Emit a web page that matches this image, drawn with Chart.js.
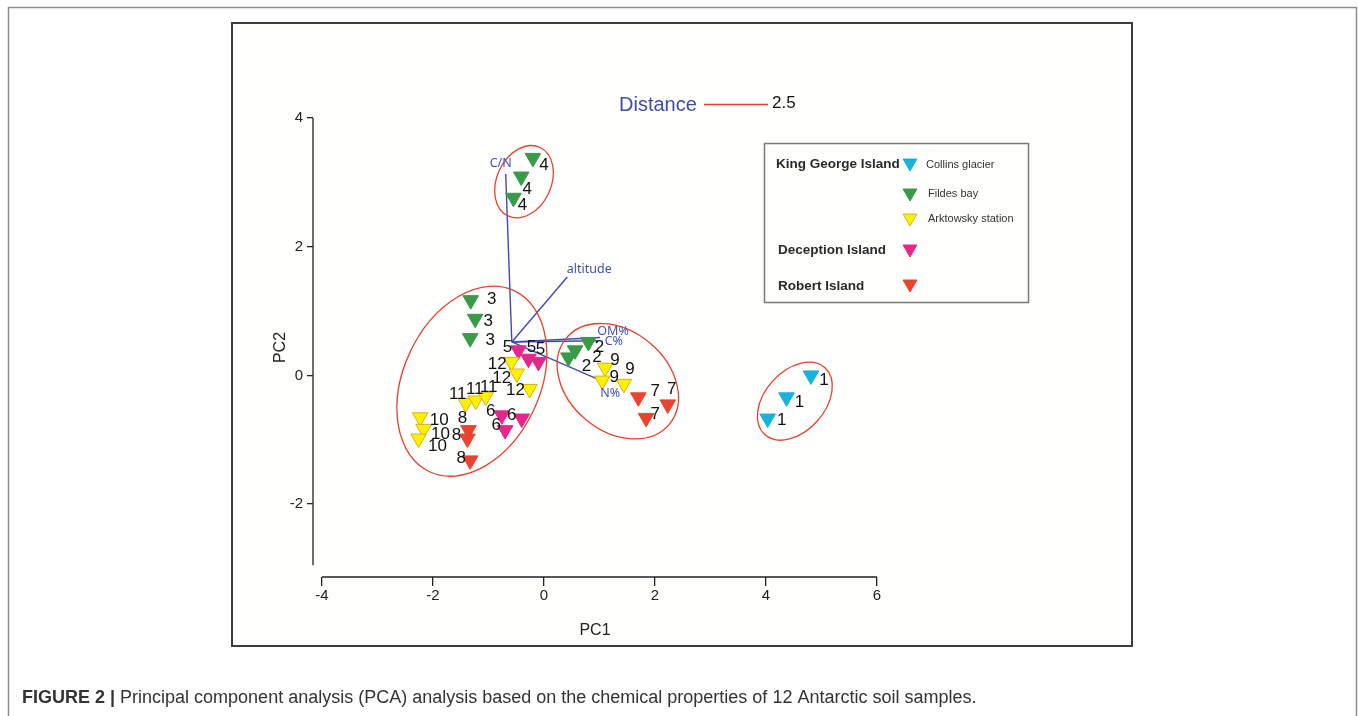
<!DOCTYPE html>
<html>
<head>
<meta charset="utf-8">
<script src="https://cdn.jsdelivr.net/npm/chart.js@4.4.1/dist/chart.umd.min.js"></script>
<style>
html,body{margin:0;padding:0;background:#fff;}
canvas{display:block;}
</style>
</head>
<body>
<canvas id="c" width="1358" height="716"></canvas>
<script>
// ---------------- DATA ----------------
const seriesNames = ['Collins glacier', 'Fildes bay', 'Arktowsky station', 'Deception Island', 'Robert Island'];

const collinsX = [4.81, 4.37, 4.03];
const collinsY = [0.00, -0.34, -0.67];
const collinsLab = ['1', '1', '1'];

const fildesX = [-0.20, -0.41, -0.55, -1.32, -1.24, -1.33, 0.80, 0.56, 0.44];
const fildesY = [3.38, 3.09, 2.76, 1.17, 0.88, 0.58, 0.52, 0.39, 0.28];
const fildesLab = ['4', '4', '4', '3', '3', '3', '2', '2', '2'];

const arktowskyX = [1.10, 1.05, 1.44, -0.59, -0.49, -0.26, -1.41, -1.23, -1.05, -2.23, -2.17, -2.26];
const arktowskyY = [0.12, -0.08, -0.13, 0.21, 0.03, -0.21, -0.43, -0.39, -0.33, -0.65, -0.83, -0.98];
const arktowskyLab = ['9', '9', '9', '12', '12', '12', '11', '11', '11', '10', '10', '10'];

const deceptionX = [-0.46, -0.28, -0.10, -0.76, -0.40, -0.70];
const deceptionY = [0.39, 0.26, 0.21, -0.62, -0.67, -0.85];
const deceptionLab = ['5', '5', '5', '6', '6', '6'];

const robertX = [-1.36, -1.38, -1.33, 1.70, 2.23, 1.84];
const robertY = [-0.85, -0.98, -1.32, -0.34, -0.45, -0.66];
const robertLab = ['8', '8', '8', '7', '7', '7'];

const loadingNames = ['C/N', 'altitude', 'OM%', 'C%', 'N%'];
const loadingX = [-0.69, 0.42, 1.01, 0.97, 1.03];
const loadingY = [3.13, 1.53, 0.59, 0.54, -0.08];
const biplotOriginX = -0.58;
const biplotOriginY = 0.52;

// group ellipses (centre in PC units, semi-axes in PC1 units, angle in degrees)
const ellipseCX = [-0.36, -1.30, 1.33, 4.52];
const ellipseCY = [3.01, -0.09, -0.09, -0.40];
const ellipseA = [0.68, 1.80, 1.21, 0.81];
const ellipseB = [0.49, 1.23, 0.90, 0.54];
const ellipseAngle = [-65, -65, 40, -48];

const xTicks = [-4, -2, 0, 2, 4, 6];
const yTicks = [-2, 0, 2, 4];
const xAxisLabel = 'PC1';
const yAxisLabel = 'PC2';
const distanceLabel = 'Distance';
const distanceValue = '2.5';
const caption = ['FIGURE 2 |', ' Principal component analysis (PCA) analysis based on the chemical properties of 12 Antarctic soil samples.'];

// ---------------- STYLE ----------------
const fillColors = ['#17b3d9', '#3a9a48', '#fff200', '#e5278b', '#ea432f'];
const edgeColors = ['#17b3d9', '#3a9a48', '#dcae1e', '#e5278b', '#ea432f'];
const labelOffsets = [
  [[13, 5], [13, 5], [14, 2]],
  [[11, 7], [6, 13], [9, 8], [21, -1], [13, 3], [20, 2], [11, 5], [22, 7], [18, 9]],
  [[10, -7], [12, -3], [6, -14], [-14, 2], [-15, 5], [-14, 1], [-8, -9], [-1, -11], [3, -9], [19, 3], [17, 5], [19, 8]],
  [[-11, -3], [3, -11], [2, -13], [-11, -4], [-10, -3], [-9, -5]],
  [[-6, -12], [-11, -3], [-9, -2], [17, -6], [4, -15], [9, -4]]
];
const loadingLabelOffsets = [[-5, -11], [22, -8], [13, -6], [16, 1], [9, 13]];
const FONT = '"Liberation Sans", Arial, sans-serif';
const BLUE = '#3e4cae';

const groupX = [collinsX, fildesX, arktowskyX, deceptionX, robertX];
const groupY = [collinsY, fildesY, arktowskyY, deceptionY, robertY];
const groupLab = [collinsLab, fildesLab, arktowskyLab, deceptionLab, robertLab];

const datasets = [];
seriesNames.forEach((name, i) => {
  datasets.push({
    type: 'scatter',
    label: name,
    data: groupX[i].map((x, k) => ({x: x, y: groupY[i][k]})),
    pointStyle: 'triangle',
    rotation: 180,
    pointRadius: 9,
    backgroundColor: fillColors[i],
    borderColor: edgeColors[i],
    borderWidth: 1,
    order: 1,
    isGroup: true,
    pointLabels: groupLab[i],
    labelOffsets: labelOffsets[i]
  });
});
loadingNames.forEach((name, i) => {
  datasets.push({
    type: 'line',
    label: name,
    data: [{x: biplotOriginX, y: biplotOriginY}, {x: loadingX[i], y: loadingY[i]}],
    borderColor: BLUE,
    borderWidth: 1.4,
    pointRadius: 0,
    fill: false,
    order: 5,
    isLoading: true,
    loadingIndex: i
  });
});

function drawTri(ctx, x, y, r, fill, edge) {
  ctx.save();
  ctx.beginPath();
  for (let k = 0; k < 3; k++) {
    const a = Math.PI + k * 2 * Math.PI / 3;
    const px = x + Math.sin(a) * r, py = y - Math.cos(a) * r;
    if (k === 0) ctx.moveTo(px, py); else ctx.lineTo(px, py);
  }
  ctx.closePath();
  ctx.fillStyle = fill; ctx.fill();
  ctx.strokeStyle = edge; ctx.lineWidth = 1; ctx.stroke();
  ctx.restore();
}

const decorPlugin = {
  id: 'decor',
  beforeDraw(chart) {
    const ctx = chart.ctx;
    ctx.save();
    ctx.fillStyle = '#fff';
    ctx.fillRect(0, 0, chart.width, chart.height);
    // outer figure border
    ctx.strokeStyle = '#8c8c8c';
    ctx.lineWidth = 1.5;
    ctx.beginPath();
    ctx.moveTo(8.5, 716); ctx.lineTo(8.5, 7.5); ctx.lineTo(1356.5, 7.5); ctx.lineTo(1356.5, 716);
    ctx.stroke();
    // inner panel frame
    ctx.fillStyle = '#fefefc';
    ctx.fillRect(232, 23, 900, 623);
    ctx.strokeStyle = '#3c3c3c';
    ctx.lineWidth = 2;
    ctx.strokeRect(232, 23, 900, 623);
    ctx.restore();
  },
  afterDatasetsDraw(chart) {
    const ctx = chart.ctx;
    const xs = chart.scales.x, ys = chart.scales.y;
    ctx.save();
    // axis lines (offset, Prism-style)
    ctx.strokeStyle = '#222';
    ctx.lineWidth = 1.3;
    ctx.beginPath();
    ctx.moveTo(chart.chartArea.left, ys.getPixelForValue(yTicks[yTicks.length - 1]));
    ctx.lineTo(chart.chartArea.left, ys.getPixelForValue(-2.95));
    ctx.moveTo(xs.getPixelForValue(xTicks[0]), chart.chartArea.bottom);
    ctx.lineTo(xs.getPixelForValue(xTicks[xTicks.length - 1]), chart.chartArea.bottom);
    ctx.stroke();

    // ellipses
    const pxPerUnit = xs.getPixelForValue(1) - xs.getPixelForValue(0);
    ctx.strokeStyle = '#e8402e';
    ctx.lineWidth = 1.3;
    ellipseCX.forEach((cx, i) => {
      ctx.beginPath();
      ctx.ellipse(xs.getPixelForValue(cx), ys.getPixelForValue(ellipseCY[i]),
        ellipseA[i] * pxPerUnit, ellipseB[i] * pxPerUnit, ellipseAngle[i] * Math.PI / 180, 0, 2 * Math.PI);
      ctx.stroke();
    });

    // point labels
    ctx.fillStyle = '#111';
    ctx.font = '17px ' + FONT;
    ctx.textAlign = 'center';
    ctx.textBaseline = 'middle';
    chart.data.datasets.forEach((ds, di) => {
      if (!ds.isGroup) return;
      const meta = chart.getDatasetMeta(di);
      meta.data.forEach((el, k) => {
        const off = ds.labelOffsets[k];
        ctx.fillText(ds.pointLabels[k], el.x + off[0], el.y + off[1]);
      });
    });

    // loading labels
    ctx.fillStyle = '#4351ad';
    ctx.font = '12.5px "Noto Sans", "Open Sans", sans-serif';
    chart.data.datasets.forEach((ds, di) => {
      if (!ds.isLoading) return;
      const meta = chart.getDatasetMeta(di);
      const el = meta.data[1];
      const off = loadingLabelOffsets[ds.loadingIndex];
      ctx.fillText(ds.label, el.x + off[0], el.y + off[1]);
    });

    // distance scale annotation
    ctx.fillStyle = BLUE;
    ctx.font = '20px ' + FONT;
    ctx.textAlign = 'left';
    ctx.fillText(distanceLabel, 619, 105);
    ctx.strokeStyle = '#e8402e';
    ctx.lineWidth = 1.3;
    ctx.beginPath(); ctx.moveTo(704, 104.5); ctx.lineTo(768, 104.5); ctx.stroke();
    ctx.fillStyle = '#111';
    ctx.font = '17px ' + FONT;
    ctx.fillText(distanceValue, 772, 103);

    // legend box
    ctx.strokeStyle = '#7a7a7a';
    ctx.lineWidth = 1.5;
    ctx.strokeRect(764.5, 143.5, 264, 159);
    ctx.fillStyle = '#2a2a2a';
    ctx.font = 'bold 13.5px ' + FONT;
    ctx.fillText('King George Island', 776, 164);
    ctx.fillText(seriesNames[3], 778, 250);
    ctx.fillText(seriesNames[4], 778, 286);
    ctx.font = '11px ' + FONT;
    ctx.fillStyle = '#333';
    ctx.fillText(seriesNames[0], 926, 165);
    ctx.fillText(seriesNames[1], 928, 194);
    ctx.fillText(seriesNames[2], 928, 219);
    const legY = [163, 193, 218, 249, 284];
    legY.forEach((y, i) => drawTri(ctx, 910, y, 8, fillColors[i], edgeColors[i]));

    // caption
    ctx.fillStyle = '#333';
    ctx.font = 'bold 18px ' + FONT;
    ctx.textBaseline = 'alphabetic';
    ctx.fillText(caption[0], 22, 703);
    const w = ctx.measureText(caption[0]).width;
    ctx.font = '18px ' + FONT;
    ctx.fillText(caption[1], 22 + w, 703);
    ctx.restore();
  }
};

new Chart(document.getElementById('c'), {
  type: 'scatter',
  data: {datasets: datasets},
  options: {
    responsive: false,
    animation: false,
    events: [],
    layout: {padding: {left: 262, top: 118, right: 481, bottom: 69}},
    plugins: {legend: {display: false}, tooltip: {enabled: false}},
    scales: {
      x: {
        type: 'linear',
        min: -4.162,
        max: 6,
        afterBuildTicks: s => { s.ticks = xTicks.map(v => ({value: v})); },
        afterFit: s => { s.height = 70; },
        border: {display: false},
        grid: {drawOnChartArea: false, drawTicks: true, tickLength: 9, color: '#222', lineWidth: 1.3},
        ticks: {color: '#222', font: {family: FONT, size: 15}, padding: 1, maxRotation: 0},
        title: {display: true, text: xAxisLabel, color: '#222', font: {family: FONT, size: 16}, padding: {top: 0, bottom: 6.4}}
      },
      y: {
        type: 'linear',
        min: -3.132,
        max: 4,
        afterBuildTicks: s => { s.ticks = yTicks.map(v => ({value: v})); },
        afterFit: s => { s.width = 51; },
        border: {display: false},
        grid: {drawOnChartArea: false, drawTicks: true, tickLength: 6, color: '#222', lineWidth: 1.3},
        ticks: {color: '#222', font: {family: FONT, size: 15}, padding: 4},
        title: {display: true, text: yAxisLabel, color: '#222', font: {family: FONT, size: 16}, padding: {top: 9.4, bottom: 0}}
      }
    }
  },
  plugins: [decorPlugin]
});
</script>
</body>
</html>
